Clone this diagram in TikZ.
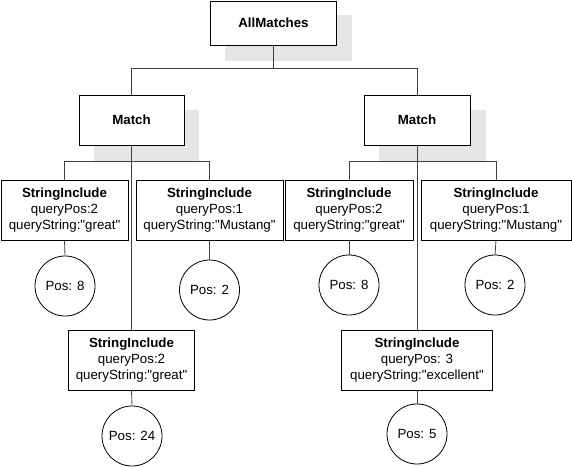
\documentclass[tikz,border=0pt]{standalone}
\usepackage{fontspec}
\newfontfamily\arialfam{Liberation Sans}
\begin{document}
\begin{tikzpicture}[x=1pt,y=-1pt,
  box/.style={draw=black,line width=0.8pt,fill=white,rectangle,inner sep=0pt,align=center,
    font=\arialfam\fontsize{13.3}{16}\selectfont},
  shad/.style={fill=black!10,draw=none},
  poscirc/.style={draw=black,line width=0.8pt,fill=white,circle,minimum size=60pt,inner sep=0pt,
    font=\arialfam\fontsize{13.3}{16}\selectfont},
  conn/.style={draw=black!75,line width=0.8pt}]
\useasboundingbox (0,0) rectangle (572,466);
% shadows
\fill[shad] (225,15) rectangle (352,61);
\fill[shad] (94,110) rectangle (199,161);
\fill[shad] (379,110) rectangle (486,161);
% junction coordinates
\coordinate (j0) at (273.5,68);
\coordinate (j1) at (131.5,161);
\coordinate (j2) at (417,161);
% nodes
\node[box,minimum width=126pt,minimum height=44pt] (all) at (273.5,23) {\textbf{AllMatches}};
\node[box,minimum width=105pt,minimum height=50pt] (m1) at (131.5,120) {\textbf{Match}};
\node[box,minimum width=106pt,minimum height=50pt] (m2) at (417,120) {\textbf{Match}};
\node[box,minimum width=127pt,minimum height=60pt] (s1) at (64.5,210) {\textbf{StringInclude}\\queryPos:2\\queryString:"great"};
\node[box,minimum width=147pt,minimum height=60pt] (s2) at (209.5,210) {\textbf{StringInclude}\\queryPos:1\\queryString:"Mustang"};
\node[box,minimum width=128pt,minimum height=60pt] (s3) at (349,210) {\textbf{StringInclude}\\queryPos:2\\queryString:"great"};
\node[box,minimum width=150pt,minimum height=60pt] (s4) at (496,210) {\textbf{StringInclude}\\queryPos:1\\queryString:"Mustang"};
\node[box,minimum width=126pt,minimum height=60pt] (s5) at (131.5,360) {\textbf{StringInclude}\\queryPos:2\\queryString:"great"};
\node[box,minimum width=151pt,minimum height=60pt] (s6) at (417,360) {\textbf{StringInclude}\\queryPos: 3\\queryString:"excellent"};
\node[poscirc] (p1) at (65,286) {Pos: 8};
\node[poscirc] (p2) at (209.5,290) {Pos: 2};
\node[poscirc] (p3) at (349,285) {Pos: 8};
\node[poscirc] (p4) at (495,285) {Pos: 2};
\node[poscirc] (p5) at (132,436) {Pos: 24};
\node[poscirc] (p6) at (417,434) {Pos: 5};
% connectors
\draw[conn] (all.south) -- (j0);
\draw[conn] (j0) -| (m1.north);
\draw[conn] (j0) -| (m2.north);
\draw[conn] (m1.south) -- (s5.north);
\draw[conn] (m2.south) -- (s6.north);
\draw[conn] (j1) -| (s1.north);
\draw[conn] (j1) -| (s2.north);
\draw[conn] (j2) -| (s3.north);
\draw[conn] (j2) -| (s4.north);
\draw[conn] (s1.south) -- (p1.north);
\draw[conn] (s2.south) -- (p2.north);
\draw[conn] (s3.south) -- (p3.north);
\draw[conn] (s4.south) -- (p4.north);
\draw[conn] (s5.south) -- (p5.north);
\draw[conn] (s6.south) -- (p6.north);
\end{tikzpicture}
\end{document}
